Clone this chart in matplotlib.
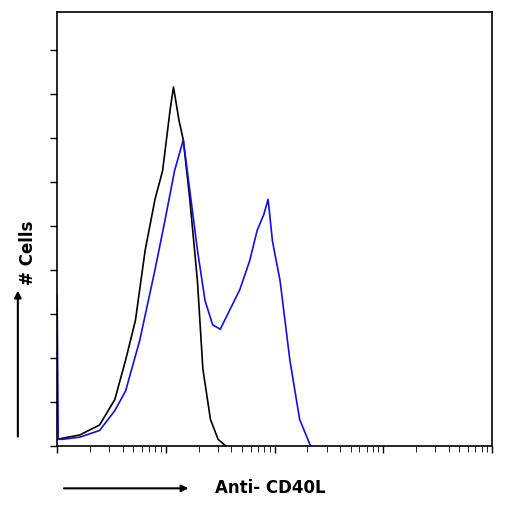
import matplotlib.pyplot as plt
import numpy as np

# fluorescence position (decades) and cell counts
black_x = [0, 0.21, 0.39, 0.53, 0.63, 0.72, 0.81, 0.90, 0.97, 1.04, 1.07, 1.12, 1.16,
           1.22, 1.29, 1.34, 1.41, 1.48, 1.55]
black_y = [3, 5, 9.5, 21, 39, 57, 89, 112, 125, 153, 163, 148, 139, 112, 75, 35, 12, 3, 0]

blue_x = [0.0, 0.01, 0.05, 0.21, 0.39, 0.53, 0.63, 0.76, 0.90, 0.99, 1.08, 1.16, 1.22,
          1.29, 1.36, 1.43, 1.50, 1.59, 1.68, 1.77, 1.84, 1.90, 1.94, 1.98, 2.05, 2.14,
          2.23, 2.33]
blue_y = [68, 3, 3, 4, 7, 16, 25, 48, 80, 102, 125, 139, 116, 89, 66, 55, 53, 62, 71,
          84, 98, 105, 112, 93, 75, 39, 12, 0]

fig = plt.figure(figsize=(5.1, 5.05), dpi=100)
ax = fig.add_axes([0.112, 0.117, 0.853, 0.859])

ax.plot(10 ** np.array(black_x), black_y, color="black", lw=1.2)
ax.plot(10 ** np.array(blue_x), blue_y, color="#1010e0", lw=1.2)

ax.set_xscale("log")
ax.set_xlim(1, 1e4)
ax.set_ylim(0, 197)
ax.set_yticks(np.arange(0, 181, 20))
ax.set_yticklabels([])
ax.set_xticklabels([], minor=True)
ax.set_xticklabels([])
ax.tick_params(direction="out", length=5, width=1)
ax.tick_params(which="minor", direction="out", length=4)
for s in ax.spines.values():
    s.set_linewidth(1.2)

fig.text(0.53, 0.033, "Anti- CD40L", fontsize=12, fontweight="bold", ha="center", va="center")
fig.text(0.055, 0.5, "# Cells", fontsize=12, fontweight="bold", rotation=90, ha="center", va="center")
fig.add_artist(plt.Annotation("", xy=(0.375, 0.033), xytext=(0.12, 0.033), xycoords="figure fraction",
                              arrowprops=dict(arrowstyle="-|>", color="black", lw=1.5)))
fig.add_artist(plt.Annotation("", xy=(0.035, 0.43), xytext=(0.035, 0.13), xycoords="figure fraction",
                              arrowprops=dict(arrowstyle="-|>", color="black", lw=1.5)))

fig.savefig("out.png")
